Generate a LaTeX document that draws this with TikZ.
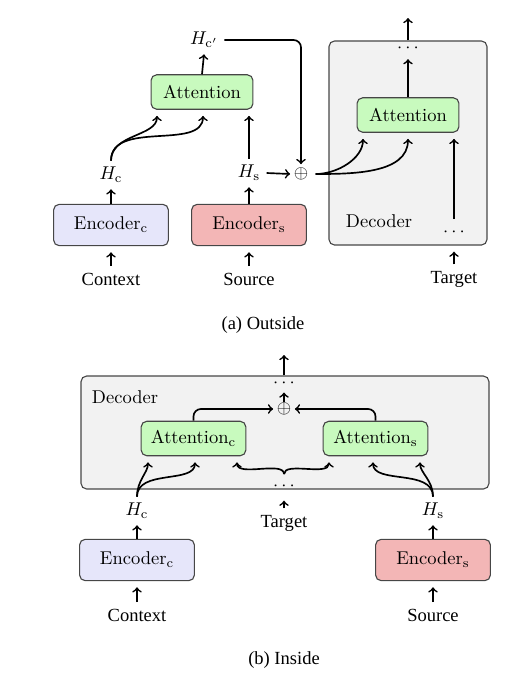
\documentclass[tikz,border=0pt]{standalone}
\usepackage{fontspec}
\newfontfamily\tnr{Liberation Serif}
\usetikzlibrary{calc}
\definecolor{attgreen}{RGB}{200,250,190}
\definecolor{encblue}{RGB}{230,230,250}
\definecolor{encred}{RGB}{243,182,182}
\definecolor{decgray}{RGB}{242,242,242}
\definecolor{edge}{RGB}{70,70,70}
\begin{document}
\begin{tikzpicture}[x=0.54pt,y=-0.54pt,
 box/.style={draw=edge, line width=0.6pt, rounded corners=3pt, inner sep=0pt},
 att/.style={box, fill=attgreen, minimum width=55pt, minimum height=18.6pt},
 enc/.style={box, minimum width=62pt, minimum height=22.3pt},
 dec/.style={box, fill=decgray},
 word/.style={font=\tnr},
 dotsn/.style={inner sep=0pt, text height=4.5pt, text depth=-3.7pt},
 plus/.style={inner sep=1.8pt},
 arr/.style={->, line width=0.9pt},
 into/.style={shorten >=3.3pt},
]
\useasboundingbox (0,0) rectangle (527,699);

% ---------- (a) Outside ----------
\node[dec, minimum width=85.3pt, minimum height=110.2pt] (decA) at (408,143) {};
\node (declA) at (379,221) {Decoder};
\node[att] (attA) at (202,92) {Attention};
\node[att] (attD) at (408,115) {Attention};
\node[enc, fill=encblue] (encCA) at (111,225) {Encoder$_{\mathrm{c}}$};
\node[enc, fill=encred] (encSA) at (249,225) {Encoder$_{\mathrm{s}}$};
\node (hcA) at (111,175) {$H_{\mathrm{c}}$};
\node (hsA) at (249,173) {$H_{\mathrm{s}}$};
\node (hcpA) at (204,40) {$H_{\mathrm{c}'}$};
\node[plus] (opA) at (301,174) {$\oplus$};
\node[word] (ctxA) at (111,279) {Context};
\node[word] (srcA) at (249,279) {Source};
\node[word] (tgtA) at (454,279) {Target};
\node[dotsn] (dtA) at (408,48) {$\cdots$};
\node[dotsn] (dbA) at (454,232) {$\cdots$};
\coordinate (outA) at (408,18);
\node[word] (capA) at (263,325) {(a) Outside};

\draw[arr,into] (ctxA.north) -- (encCA.south);
\draw[arr,into] (srcA.north) -- (encSA.south);
\draw[arr] (encCA.north) -- (hcA.south);
\draw[arr] (encSA.north) -- (hsA.south);
\draw[arr,into] (hcA.north) to[out=90,in=-90] ($(attA.south)+(-45,0)$);
\draw[arr,into] (hcA.north) to[out=90,in=-90] ($(attA.south)+(1,0)$);
\draw[arr,into] (hsA.north) -- (attA.south -| hsA);
\draw[arr] (attA.north) -- (hcpA.south);
\draw[arr,rounded corners=4pt] (hcpA.east) -| (opA.north);
\draw[arr] (hsA.east) -- (opA.west);
\draw[arr,into,shorten <=2pt] (opA.east) to[out=0,in=-90] ($(attD.south)+(-45,0)$);
\draw[arr,into,shorten <=2pt] (opA.east) to[out=0,in=-90] (attD.south);
\draw[arr,into,shorten <=4.5pt] (dbA.north) -- (attD.south -| dbA);
\draw[arr,into] (tgtA.north) -- (decA.south -| tgtA);
\draw[arr,shorten >=3.6pt] (attD.north) -- (dtA.south);
\draw[arr] (decA.north -| dtA) -- (outA);

% ---------- (b) Inside ----------
\node[dec, minimum width=220.3pt, minimum height=61pt] (decB) at (285,432.5) {};
\node (declB) at (125,397) {Decoder};
\node[att, minimum width=56.5pt] (attCB) at (193.5,438.5) {Attention$_{\mathrm{c}}$};
\node[att, minimum width=56.5pt] (attSB) at (375.5,438.5) {Attention$_{\mathrm{s}}$};
\node[plus] (opB) at (284,409) {$\oplus$};
\node[dotsn] (dtB) at (284,383) {$\cdots$};
\node[dotsn] (dbB) at (284,486) {$\cdots$};
\coordinate (outB) at (284,355);
\node (hcB) at (137,511) {$H_{\mathrm{c}}$};
\node (hsB) at (433,511) {$H_{\mathrm{s}}$};
\node[word] (tgtB) at (284,523) {Target};
\node[enc, fill=encblue] (encCB) at (137,560) {Encoder$_{\mathrm{c}}$};
\node[enc, fill=encred] (encSB) at (433,560) {Encoder$_{\mathrm{s}}$};
\node[word] (ctxB) at (137,615) {Context};
\node[word] (srcB) at (433,615) {Source};
\node[word] (capB) at (284,660) {(b) Inside};

\draw[arr,into] (ctxB.north) -- (encCB.south);
\draw[arr,into] (srcB.north) -- (encSB.south);
\draw[arr] (encCB.north) -- (hcB.south);
\draw[arr] (encSB.north) -- (hsB.south);
\draw[arr,into] (hcB.north) to[out=90,in=-90] ($(attCB.south)+(-45.5,0)$);
\draw[arr,into] (hcB.north) to[out=90,in=-90] ($(attCB.south)+(1.5,0)$);
\draw[arr,into,shorten <=4pt] (dbB.north) to[out=90,in=-90] ($(attCB.south)+(43.5,0)$);
\draw[arr,into,shorten <=4pt] (dbB.north) to[out=90,in=-90] ($(attSB.south)+(-46.5,0)$);
\draw[arr,into] (hsB.north) to[out=90,in=-90] ($(attSB.south)+(-2.5,0)$);
\draw[arr,into] (hsB.north) to[out=90,in=-90] ($(attSB.south)+(44.5,0)$);
\draw[arr,shorten >=5.5pt] (tgtB.north) -- (dbB.south);
\draw[arr,rounded corners=4pt] (attCB.north) |- (opB.west);
\draw[arr,rounded corners=4pt] (attSB.north) |- (opB.east);
\draw[arr,shorten >=2.7pt,shorten <=-1.8pt] (opB.north) -- (dtB.south);
\draw[arr] (decB.north -| dtB) -- (outB);
\end{tikzpicture}
\end{document}
